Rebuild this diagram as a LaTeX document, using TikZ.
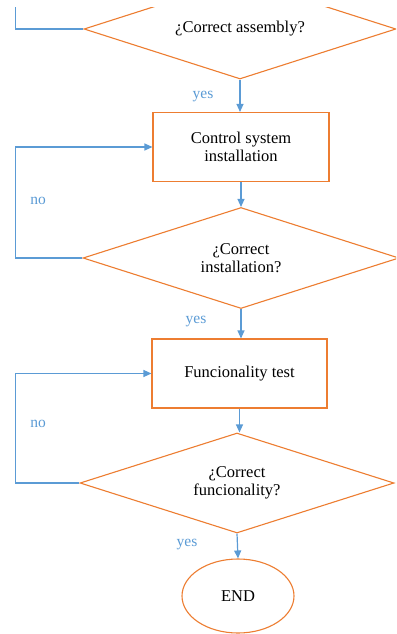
\documentclass[tikz,border=0pt]{standalone}
\usepackage{fontspec}
\setmainfont{Liberation Serif}
\newfontfamily\tnr{Liberation Serif}
\usetikzlibrary{shapes.geometric,arrows.meta}
\definecolor{oorange}{HTML}{ED7D31}
\definecolor{oblue}{HTML}{5B9BD5}
\tikzset{
  procbox/.style={draw=oorange, line width=1.1pt, fill=white, rectangle, inner sep=0pt,
    align=center, font=\tnr\fontsize{16.5}{18.5}\selectfont},
  decbox/.style={draw=oorange, line width=1.1pt, fill=white, diamond, inner sep=0pt, aspect=3,
    align=center, font=\tnr\fontsize{16.5}{18.5}\selectfont},
  endbox/.style={draw=oorange, line width=1.1pt, fill=white, ellipse, inner sep=0pt,
    font=\tnr\fontsize{16.5}{18.5}\selectfont},
  conn/.style={draw=oblue, line width=1.2pt},
  arr/.style={conn, -{Triangle[length=8pt,width=7pt]}},
  lbl/.style={text=oblue, font=\tnr\fontsize{15.5}{17}\selectfont, inner sep=0pt},
}
\begin{document}
\begin{tikzpicture}[x=1pt,y=-1pt]
\useasboundingbox (0,0) rectangle (396,634);
\clip (0,8) rectangle (396,634);
% nodes
\node[decbox, minimum width=312pt, minimum height=100pt] (d1) at (240,29) {¿Correct assembly?};
\node[procbox, minimum width=176pt, minimum height=69pt] (b1) at (241,147) {Control system\\installation};
\node[decbox, minimum width=316pt, minimum height=101pt] (d2) at (241,258) {¿Correct\\installation?};
\node[procbox, minimum width=175pt, minimum height=69pt] (b2) at (239.5,373.5) {Funcionality test};
\node[decbox, minimum width=314pt, minimum height=100pt] (d3) at (237,483) {¿Correct\\funcionality?};
\node[endbox, minimum width=112pt, minimum height=74pt] (e) at (238,596) {END};
% labels
\node[lbl] (y1) at (203,97) {yes};
\node[lbl] (y2) at (196,322) {yes};
\node[lbl] (y3) at (187,545) {yes};
\node[lbl] (n1) at (38,201) {no};
\node[lbl] (n2) at (38,424) {no};
% connectors
\draw[arr] (d1.south) -- (d1.south |- b1.north);
\draw[arr] (b1.south) -- (b1.south |- d2.north);
\draw[arr] (d2.south) -- (d2.south |- b2.north);
\draw[arr] (b2.south) -- (b2.south |- d3.north);
\draw[arr] (d3.south) -- (e.north);
\draw[conn] (d1.west) -- +(-68,0) -- +(-68,-40);
\draw[arr] (d2.west) -- +(-67,0) |- (b1.west);
\draw[arr] (d3.west) -- +(-64,0) |- (b2.west);
\end{tikzpicture}
\end{document}
